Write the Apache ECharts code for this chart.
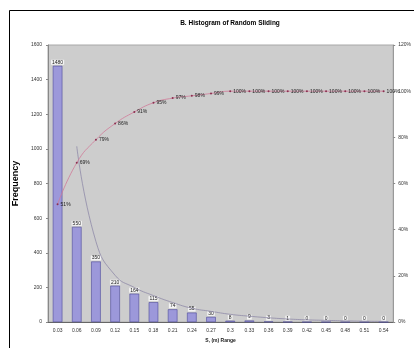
<!DOCTYPE html>
<html>
<head>
<meta charset="utf-8">
<script src="https://cdn.jsdelivr.net/npm/echarts@6/dist/echarts.min.js"></script>
<style>
html,body{margin:0;padding:0;background:#fff;}
#main{width:414px;height:348px;}
</style>
</head>
<body>
<div id="main"></div>
<script>
// categories (range) and values
var categories = ['0.03','0.06','0.09','0.12','0.15','0.18','0.21','0.24','0.27','0.3','0.33','0.36','0.39','0.42','0.45','0.48','0.51','0.54'];
var frequency = [1480, 550, 350, 210, 164, 115, 74, 55, 30, 8, 9, 3, 1, 0, 0, 0, 0, 0];
var cumulative = [51, 69, 79, 86, 91, 95, 97, 98, 99, 100, 100, 100, 100, 100, 100, 100, 100, 100];
var fitted = [null, 1015, 465, 270, 200, 153, 113, 80, 62, 45, 34, 25, 18, 13, 10, 7, 5, 4];
var leftTicks = [0, 1600, 200];
var rightTicks = [0, 120, 20];

var myChart = echarts.init(document.getElementById('main'));

var option = {
    backgroundColor: '#fff',
    animation: false,
    title: {
        text: 'B. Histogram of Random Sliding',
        left: 225,
        top: 15,
        textAlign: 'center',
        textStyle: { fontSize: 6.5, fontWeight: 'bold', color: '#000', fontFamily: 'Arial' }
    },
    graphic: [{
        type: 'rect',
        shape: { x: 9.5, y: 10.5, width: 420, height: 360 },
        style: { fill: 'none', stroke: '#000', lineWidth: 1 },
        silent: true
    }],
    grid: {
        left: 48,
        right: 12,
        top: 45,
        bottom: 21,
        show: true,
        backgroundColor: '#cdcdcd',
        borderColor: '#a8a8a8',
        borderWidth: 1
    },
    xAxis: [{
        type: 'category',
        data: categories,
        name: 'S, (m) Range',
        nameLocation: 'middle',
        nameGap: 14,
        nameTextStyle: { fontSize: 5, fontWeight: 'bold', color: '#222' },
        axisLine: { lineStyle: { color: '#666' } },
        axisTick: { show: false },
        axisLabel: { fontSize: 5, color: '#333', margin: 6, interval: 0 }
    }],
    yAxis: [{
        type: 'value',
        min: leftTicks[0],
        max: leftTicks[1],
        interval: leftTicks[2],
        name: 'Frequency',
        nameLocation: 'middle',
        nameGap: 20,
        nameTextStyle: { fontSize: 9, fontWeight: 'bold', color: '#000' },
        splitLine: { show: false },
        axisLine: { show: true, lineStyle: { color: '#888' } },
        axisTick: { show: true, length: 2, lineStyle: { color: '#888' } },
        axisLabel: { fontSize: 5, color: '#333', margin: 6, formatter: function (v) { return String(v); } }
    }, {
        type: 'value',
        min: rightTicks[0],
        max: rightTicks[1],
        interval: rightTicks[2],
        position: 'right',
        splitLine: { show: false },
        axisLine: { show: true, lineStyle: { color: '#999' } },
        axisTick: { show: true, length: 2, lineStyle: { color: '#888' } },
        axisLabel: { fontSize: 5, color: '#333', margin: 5, formatter: '{value}%' }
    }],
    series: [{
        name: 'Frequency',
        type: 'bar',
        data: frequency,
        barWidth: '50%',
        itemStyle: { color: '#9c98da', borderColor: '#4e4a9a', borderWidth: 0.6 },
        label: {
            show: true,
            position: 'top',
            distance: 1,
            fontSize: 5,
            color: '#222',
            backgroundColor: '#f4f4f4',
            padding: [0, 1]
        },
        z: 2
    }, {
        name: 'Fitted',
        type: 'line',
        data: fitted,
        smooth: true,
        showSymbol: false,
        lineStyle: { color: '#8f8aa8', width: 0.8 },
        z: 3
    }, {
        name: 'Cumulative',
        type: 'line',
        yAxisIndex: 1,
        data: cumulative,
        smooth: true,
        symbol: 'circle',
        symbolSize: 2,
        itemStyle: { color: '#8a3050' },
        lineStyle: { color: '#d07a98', width: 0.8 },
        label: {
            show: true,
            position: 'right',
            distance: 2,
            fontSize: 5,
            color: '#222',
            formatter: '{c}%'
        },
        z: 4
    }]
};

myChart.setOption(option);
</script>
</body>
</html>
